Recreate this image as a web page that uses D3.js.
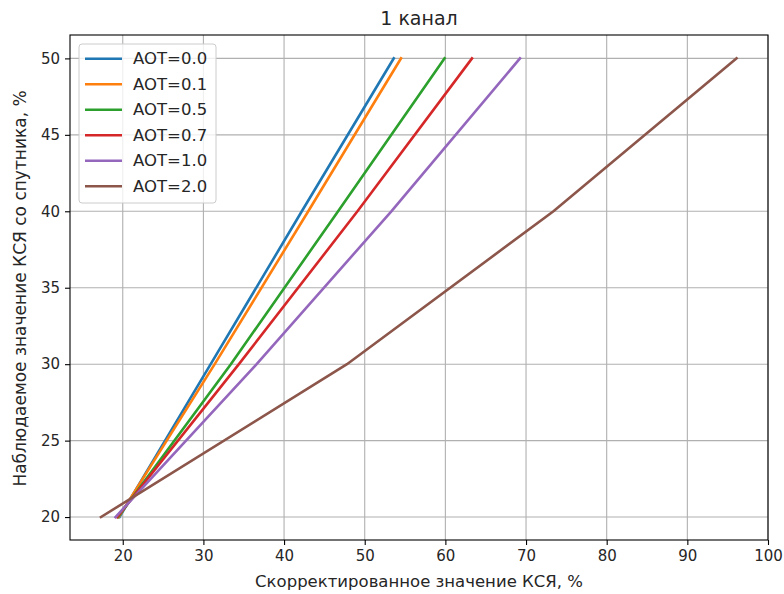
<!DOCTYPE html>
<html>
<head>
<meta charset="utf-8">
<script src="https://cdn.jsdelivr.net/npm/d3@7"></script>
<style>
  body { margin: 0; background: #fff; }
  svg { font-family: "DejaVu Sans", sans-serif; }
</style>
</head>
<body>
<svg id="chart" width="784" height="594"></svg>
<script>
// observed values (y) and corrected values per AOT (x)
const observed = [20, 30, 40, 50];
const aotLabels = ["AOT=0.0", "AOT=0.1", "AOT=0.5", "AOT=0.7", "AOT=1.0", "AOT=2.0"];
const corrected00 = [19.6, 30.9, 42.2, 53.6];
const corrected01 = [19.5, 31.4, 43.0, 54.5];
const corrected05 = [19.4, 33.4, 46.7, 59.9];
const corrected07 = [19.3, 34.4, 49.1, 63.3];
const corrected10 = [19.1, 36.6, 53.3, 69.25];
const corrected20 = [17.3, 47.8, 73.4, 96.1];
const xTicks = [20, 30, 40, 50, 60, 70, 80, 90, 100];
const yTicks = [20, 25, 30, 35, 40, 45, 50];
const colors = ["#1f77b4", "#ff7f0e", "#2ca02c", "#d62728", "#9467bd", "#8c564b"];

const series = [corrected00, corrected01, corrected05, corrected07, corrected10, corrected20];

const margin = { left: 70, right: 16, top: 35, bottom: 54 };
const width = 784, height = 594;

const svg = d3.select("#chart");

const x = d3.scaleLinear().domain([13.46, 100]).range([margin.left, width - margin.right]);
const y = d3.scaleLinear().domain([18.5, 51.53]).range([height - margin.bottom, margin.top]);

// grid
svg.append("g")
  .selectAll("line")
  .data(xTicks)
  .join("line")
  .attr("x1", (d) => x(d)).attr("x2", (d) => x(d))
  .attr("y1", y.range()[0]).attr("y2", y.range()[1])
  .attr("stroke", "#b0b0b0").attr("stroke-width", 1.1);

svg.append("g")
  .selectAll("line")
  .data(yTicks)
  .join("line")
  .attr("y1", (d) => y(d)).attr("y2", (d) => y(d))
  .attr("x1", x.range()[0]).attr("x2", x.range()[1])
  .attr("stroke", "#b0b0b0").attr("stroke-width", 1.1);

// lines
const line = d3.line()
  .x((d) => x(d[0]))
  .y((d) => y(d[1]));

svg.append("g")
  .selectAll("path")
  .data(series)
  .join("path")
  .attr("d", (s) => line(s.map((v, i) => [v, observed[i]])))
  .attr("fill", "none")
  .attr("stroke", (d, i) => colors[i])
  .attr("stroke-width", 2.6)
  .attr("stroke-linecap", "square");

// axes
const xAxis = svg.append("g")
  .attr("transform", `translate(0,${y.range()[0]})`)
  .call(d3.axisBottom(x).tickValues(xTicks).tickSize(5).tickPadding(5));

const yAxis = svg.append("g")
  .attr("transform", `translate(${x.range()[0]},0)`)
  .call(d3.axisLeft(y).tickValues(yTicks).tickSize(5).tickPadding(5));

[xAxis, yAxis].forEach((a) => {
  a.select(".domain").remove();
  a.selectAll("text").attr("font-size", 15).attr("fill", "#262626").attr("font-family", "DejaVu Sans");
  a.selectAll("line").attr("stroke", "#000").attr("stroke-width", 1.1);
});

// frame
svg.append("rect")
  .attr("x", x.range()[0]).attr("y", y.range()[1])
  .attr("width", x.range()[1] - x.range()[0])
  .attr("height", y.range()[0] - y.range()[1])
  .attr("fill", "none").attr("stroke", "#000").attr("stroke-width", 1.1);

// labels
svg.append("text")
  .attr("x", (x.range()[0] + x.range()[1]) / 2).attr("y", 25)
  .attr("text-anchor", "middle").attr("font-size", 19).attr("fill", "#262626")
  .text("1 канал");

svg.append("text")
  .attr("x", (x.range()[0] + x.range()[1]) / 2).attr("y", 587)
  .attr("text-anchor", "middle").attr("font-size", 16.5).attr("fill", "#262626")
  .text("Скорректированное значение КСЯ, %");

svg.append("text")
  .attr("transform", `translate(26,${(y.range()[0] + y.range()[1]) / 2 + 1}) rotate(-90)`)
  .attr("text-anchor", "middle").attr("font-size", 17).attr("fill", "#262626")
  .text("Наблюдаемое значение КСЯ со спутника, %");

// legend
const legend = svg.append("g").attr("transform", "translate(79,44)");
legend.append("rect")
  .attr("width", 137).attr("height", 159)
  .attr("rx", 3)
  .attr("fill", "rgba(255,255,255,0.8)")
  .attr("stroke", "#cccccc");

const rows = legend.selectAll("g.row")
  .data(aotLabels)
  .join("g")
  .attr("class", "row")
  .attr("transform", (d, i) => `translate(0,${14.7 + i * 25.5})`);

rows.append("line")
  .attr("x1", 6).attr("x2", 43)
  .attr("stroke", (d, i) => colors[i]).attr("stroke-width", 2.6);

rows.append("text")
  .attr("x", 54).attr("dy", "0.35em")
  .attr("font-size", 16.5).attr("fill", "#262626")
  .text((d) => d);
</script>
</body>
</html>
